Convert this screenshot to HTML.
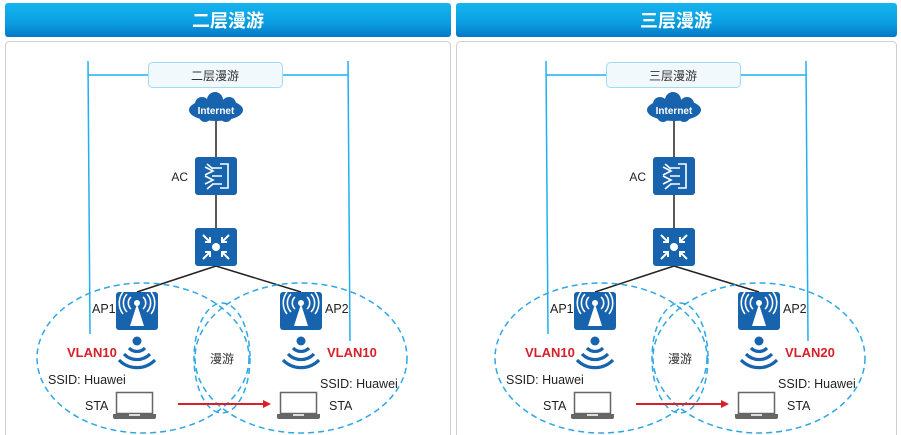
<!DOCTYPE html>
<html><head><meta charset="utf-8"><style>
html,body{margin:0;padding:0;background:#fff;width:901px;height:435px;overflow:hidden}
svg{display:block}
text{font-family:"Liberation Sans","Noto Sans CJK SC",sans-serif}
</style></head><body>
<svg width="901" height="435" viewBox="0 0 901 435" xmlns="http://www.w3.org/2000/svg">
<defs>
<linearGradient id="hg" x1="0" y1="0" x2="0" y2="1">
<stop offset="0" stop-color="#16b4ef"/><stop offset="0.6" stop-color="#0a9ee0"/><stop offset="1" stop-color="#0477c4"/>
</linearGradient>
<g id="panel">
<line x1="88" y1="61" x2="90" y2="334" stroke="#1fb0ef" stroke-width="1.5"/>
<line x1="348" y1="61" x2="350" y2="341" stroke="#1fb0ef" stroke-width="1.5"/>
<line x1="88" y1="75" x2="348" y2="75" stroke="#1fb0ef" stroke-width="1.5"/>
<rect x="148.5" y="62.5" width="134" height="25" rx="4" fill="#f1f9fd" stroke="#9fdcf6"/>
<line x1="216" y1="120" x2="216" y2="266" stroke="#222" stroke-width="1.5"/>
<line x1="216" y1="266" x2="137" y2="292" stroke="#222" stroke-width="1.5"/>
<line x1="216" y1="266" x2="301" y2="292" stroke="#222" stroke-width="1.5"/>
<g fill="#1763ad">
<ellipse cx="216" cy="110" rx="27" ry="11"/>
<circle cx="202" cy="104" r="7"/><circle cx="215" cy="100" r="8"/><circle cx="229" cy="104" r="7"/>
<circle cx="205" cy="116" r="6"/><circle cx="226" cy="116" r="6"/>
</g>
<text x="216" y="114" font-size="10" font-weight="bold" fill="#fff" text-anchor="middle">Internet</text>
<rect x="195" y="157" width="42" height="38" rx="3" fill="#1763ad"/>
<g stroke="#fff" stroke-width="1.6" fill="none">
<path d="M220 164h8v24h-8"/><path d="M205 167l8 4-8 4M205 176l8 4-8 4M207 164l6 5M207 189l6-5"/><path d="M212 168h10M212 176h10M212 184h10"/>
</g>
<text x="188" y="181" font-size="12" fill="#222" text-anchor="end">AC</text>
<rect x="195" y="228" width="42" height="38" rx="3" fill="#1763ad"/>
<circle cx="216" cy="247" r="4" fill="#fff"/>
<g stroke="#fff" stroke-width="2" fill="none">
<path d="M203 235l7 7M210 237v5h-5M229 235l-7 7M222 237v5h5M203 259l7-7M210 257v-5h-5M229 259l-7-7M222 257v-5h5"/>
</g>
<g fill="none" stroke="#2ea7e6" stroke-width="1.5" stroke-dasharray="6,4">
<ellipse cx="143" cy="358" rx="106" ry="75"/>
<ellipse cx="301" cy="358" rx="106" ry="75"/>
<ellipse cx="222" cy="358" rx="28" ry="55"/>
</g>
<text x="222" y="363" font-size="12" fill="#333" text-anchor="middle">漫游</text>
<g id="ap">
<rect x="116" y="292" width="42" height="38" rx="3" fill="#1763ad"/>
<path d="M137 304l-7 22h14z" fill="#fff"/>
<circle cx="137" cy="303" r="3" fill="#fff"/>
<g stroke="#fff" stroke-width="1.6" fill="none">
<path d="M131 297a8 8 0 0 0 0 12M143 297a8 8 0 0 1 0 12M127 294a13 13 0 0 0 0 18M147 294a13 13 0 0 1 0 18M123 292a18 18 0 0 0 0 22M151 292a18 18 0 0 1 0 22"/>
</g>
<circle cx="137" cy="341" r="4.5" fill="#1763ad"/>
<g stroke="#1763ad" stroke-width="3.2" fill="none">
<path d="M129 348a11 11 0 0 0 16 0M124 354a18 18 0 0 0 26 0M119 360a25 25 0 0 0 36 0"/>
</g>
<rect x="116.5" y="392.5" width="36" height="21" fill="#fff" stroke="#666" stroke-width="1.5"/>
<path d="M113 414h43v3a2 2 0 0 1-2 2h-39a2 2 0 0 1-2-2z" fill="#666"/>
<rect x="129" y="414" width="11" height="2" fill="#ddd"/>
</g>
<use href="#ap" transform="translate(164,0)"/>
<text x="92" y="313" font-size="12.5" fill="#222">AP1</text>
<text x="325" y="313" font-size="12.5" fill="#222">AP2</text>
<text x="67" y="357" font-size="13" font-weight="bold" fill="#d7202a">VLAN10</text>
<text x="48" y="384" font-size="12.5" fill="#222">SSID: Huawei</text>
<text x="320" y="388" font-size="12.5" fill="#222">SSID: Huawei</text>
<text x="85" y="410" font-size="12.5" fill="#222">STA</text>
<text x="329" y="410" font-size="12.5" fill="#222">STA</text>
<line x1="178" y1="404" x2="264" y2="404" stroke="#d7202a" stroke-width="2"/>
<path d="M271 404l-8-4v8z" fill="#d7202a"/>
</g>
</defs>
<rect x="5" y="3" width="446" height="34" rx="3" fill="url(#hg)"/>
<rect x="456" y="3" width="441" height="34" rx="3" fill="url(#hg)"/>
<text x="228" y="27" font-size="18" font-weight="bold" fill="#fff" text-anchor="middle">二层漫游</text>
<text x="676" y="27" font-size="18" font-weight="bold" fill="#fff" text-anchor="middle">三层漫游</text>
<rect x="5.5" y="41.5" width="445" height="400" rx="4" fill="#fff" stroke="#cfcfcf"/>
<rect x="456.5" y="41.5" width="440" height="400" rx="4" fill="#fff" stroke="#cfcfcf"/>
<use href="#panel"/>
<text x="215" y="80" font-size="12" fill="#333" text-anchor="middle">二层漫游</text>
<text x="327" y="357" font-size="13" font-weight="bold" fill="#d7202a">VLAN10</text>
<use href="#panel" transform="translate(458,0)"/>
<text x="673" y="80" font-size="12" fill="#333" text-anchor="middle">三层漫游</text>
<text x="785" y="357" font-size="13" font-weight="bold" fill="#d7202a">VLAN20</text>
</svg>
</body></html>
